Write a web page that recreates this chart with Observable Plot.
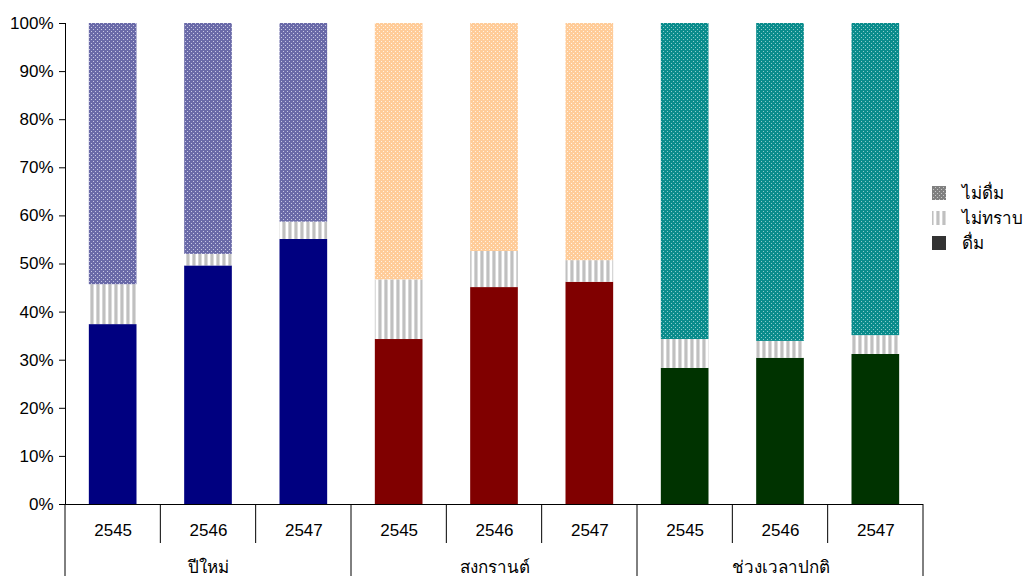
<!DOCTYPE html>
<html><head><meta charset="utf-8">
<script src="https://cdn.jsdelivr.net/npm/d3@7"></script>
<script src="https://cdn.jsdelivr.net/npm/@observablehq/plot@0.6"></script>
<style>body{margin:0;background:#fff;} #chart{width:1031px;height:576px;}</style>
</head><body><div id="chart"></div>
<script>
const groups = ["ปีใหม่", "สงกรานต์", "ช่วงเวลาปกติ"];
const years = ["2545", "2546", "2547"];
const seriesNames = ["ดื่ม", "ไม่ทราบ", "ไม่ดื่ม"];
const drink    = [37.4, 49.6, 55.1, 34.3, 45.1, 46.2, 28.3, 30.4, 31.2];
const unknown  = [8.3, 2.4, 3.6, 12.4, 7.5, 4.5, 6.0, 3.5, 3.9];
const notDrink = [54.3, 48.0, 41.3, 53.3, 47.4, 49.3, 65.7, 66.1, 64.9];
const yTicks = [0, 10, 20, 30, 40, 50, 60, 70, 80, 90, 100];

const groupSolid = ["#000080", "#800000", "#003300"];
const groupDots = [
  {id: "dotsNavy", base: "#6a6aa8", dot: "#c8c8e4"},
  {id: "dotsPeach", base: "#ffcc99", dot: "#fff2e4"},
  {id: "dotsTeal", base: "#0a8c8c", dot: "#8ccccc"}
];

const cats = groups.flatMap(g => years.map(y => ({group: g, year: y, key: g + "|" + y})));
const rows = [];
cats.forEach((c, i) => {
  const gi = groups.indexOf(c.group);
  rows.push({...c, series: seriesNames[0], value: drink[i], fill: groupSolid[gi]});
  rows.push({...c, series: seriesNames[1], value: unknown[i], fill: "url(#stripes)"});
  rows.push({...c, series: seriesNames[2], value: notDrink[i], fill: `url(#${groupDots[gi].id})`});
});
const groupCenters = groups.map(g => ({group: g, key: g + "|" + years[1]}));

const font = "'Liberation Sans', Arial, sans-serif";
const plot = Plot.plot({
  width: 1031, height: 576,
  marginLeft: 65, marginRight: 108, marginTop: 23, marginBottom: 72,
  style: {fontFamily: font, fontSize: "17px", color: "#000", background: "#fff", overflow: "visible"},
  x: {domain: cats.map(c => c.key), paddingInner: 0.5, paddingOuter: 0.25, round: false, axis: null},
  y: {domain: [0, 100], ticks: yTicks, tickFormat: d => d + "%", tickSize: 6, tickPadding: 6, line: true, label: null},
  color: {type: "identity"},
  marks: [
    Plot.barY(rows, {x: "key", y: "value", fill: "fill"}),
    Plot.ruleY([0], {stroke: "#000"}),
    Plot.text(cats, {x: "key", y: () => 0, text: "year", dy: 26, fontSize: 17, fill: "#000"}),
    Plot.text(groupCenters, {x: "key", y: () => 0, text: "group", dy: 63, fontSize: 17, fill: "#000"})
  ]
});

const svg = d3.select(plot);
const defs = svg.insert("defs", ":first-child");
groupDots.forEach(p => {
  const pat = defs.append("pattern").attr("id", p.id).attr("patternUnits", "userSpaceOnUse")
    .attr("width", 4).attr("height", 4);
  pat.append("rect").attr("width", 4).attr("height", 4).attr("fill", p.base);
  pat.append("rect").attr("x", 1).attr("y", 1).attr("width", 1).attr("height", 1).attr("fill", p.dot);
  pat.append("rect").attr("x", 3).attr("y", 3).attr("width", 1).attr("height", 1).attr("fill", p.dot);
});
const st = defs.append("pattern").attr("id", "stripes").attr("patternUnits", "userSpaceOnUse")
  .attr("width", 6).attr("height", 6);
st.append("rect").attr("width", 6).attr("height", 6).attr("fill", "#ffffff");
st.append("rect").attr("x", 0).attr("width", 1).attr("height", 6).attr("fill", "#d6d6d6");
st.append("rect").attr("x", 1).attr("width", 2).attr("height", 6).attr("fill", "#c0c0c0");
st.append("rect").attr("x", 3).attr("width", 1).attr("height", 6).attr("fill", "#dcdcdc");
const lg = defs.append("pattern").attr("id", "dotsGray").attr("patternUnits", "userSpaceOnUse")
  .attr("width", 4).attr("height", 4);
lg.append("rect").attr("width", 4).attr("height", 4).attr("fill", "#808080");
lg.append("rect").attr("x", 1).attr("y", 1).attr("width", 1).attr("height", 1).attr("fill", "#c8c8c8");
lg.append("rect").attr("x", 3).attr("y", 3).attr("width", 1).attr("height", 1).attr("fill", "#c8c8c8");

// category separators
const sx = plot.scale("x");
const sy = plot.scale("y");
const step = sx.step, bw = sx.bandwidth;
const y0 = sy.apply(0);
const sep = svg.append("g").attr("stroke", "#000").attr("stroke-width", 1);
cats.forEach((c, i) => {
  const bx = sx.apply(c.key) - (step - bw) / 2;
  sep.append("line").attr("x1", bx).attr("x2", bx).attr("y1", y0)
    .attr("y2", i % 3 === 0 ? 576 : y0 + 39);
});
{
  const last = cats[cats.length - 1].key;
  const bx = sx.apply(last) + bw + (step - bw) / 2;
  sep.append("line").attr("x1", bx).attr("x2", bx).attr("y1", y0).attr("y2", 576);
}

// legend
const legendItems = [
  {name: seriesNames[2], fill: "url(#dotsGray)"},
  {name: seriesNames[1], fill: "url(#stripes)"},
  {name: seriesNames[0], fill: "#333333"}
];
const leg = svg.append("g").attr("font-family", font).attr("font-size", 17).attr("text-anchor", "start");
legendItems.forEach((it, i) => {
  const cy = 193 + i * 25;
  leg.append("rect").attr("x", 932).attr("y", cy - 7).attr("width", 14).attr("height", 14).attr("fill", it.fill);
  leg.append("text").attr("x", 962).attr("y", cy).attr("dy", "0.35em").attr("fill", "#000").text(it.name);
});

document.getElementById("chart").appendChild(plot);
</script></body></html>
